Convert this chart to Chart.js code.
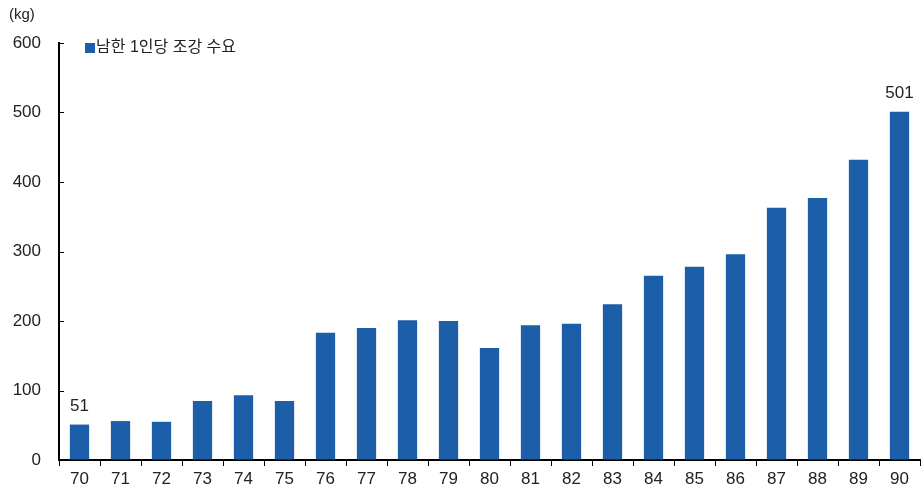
<!DOCTYPE html>
<html>
<head>
<meta charset="utf-8">
<script src="https://cdn.jsdelivr.net/npm/chart.js@4"></script>
<style>
  html, body { margin: 0; padding: 0; background: #fff; }
  #wrap { width: 923px; height: 490px; position: relative; }
</style>
</head>
<body>
<div id="wrap"><canvas id="chart"></canvas></div>
<script>
'use strict'

// **** DATA ****
let years = ['70', '71', '72', '73', '74', '75', '76', '77', '78', '79', '80',
             '81', '82', '83', '84', '85', '86', '87', '88', '89', '90'];
let demand = [51, 56, 55, 85, 93, 85, 183, 190, 201, 200, 161,
              194, 196, 224, 265, 278, 296, 363, 377, 432, 501];
let seriesName = '남한 1인당 조강 수요';
let unitLabel = '(kg)';
let yTicks = [0, 100, 200, 300, 400, 500, 600];
let labelledBars = [0, 20];

const FONT = '"Liberation Sans", "Noto Sans CJK KR", sans-serif';
const BLUE = '#1c5ea8';

// **** PLUGINS ****
// little ticks on the inside of the y axis, value labels, unit and legend
const extras = {
    id: 'extras',
    afterDraw(chart) {
        let ctx = chart.ctx;
        let yScale = chart.scales.y;
        let area = chart.chartArea;
        ctx.save();

        ctx.strokeStyle = '#000';
        ctx.lineWidth = 1;
        for (let i = 0; i < yTicks.length; i++) {
            let py = Math.round(yScale.getPixelForValue(yTicks[i])) + 0.5;
            ctx.beginPath();
            ctx.moveTo(area.left, py);
            ctx.lineTo(area.left + 5, py);
            ctx.stroke();
        }

        ctx.fillStyle = '#222';
        ctx.font = '17px ' + FONT;
        ctx.textAlign = 'center';
        ctx.textBaseline = 'bottom';
        let bars = chart.getDatasetMeta(0).data;
        for (let i = 0; i < labelledBars.length; i++) {
            let n = labelledBars[i];
            ctx.fillText(String(demand[n]), bars[n].x, bars[n].y - 10);
        }

        ctx.textAlign = 'left';
        ctx.textBaseline = 'middle';
        ctx.font = '15px ' + FONT;
        ctx.fillText(unitLabel, 9, 15);

        ctx.fillStyle = BLUE;
        ctx.fillRect(85, 43, 10, 10);
        ctx.fillStyle = '#222';
        ctx.font = '16px ' + FONT;
        ctx.fillText(seriesName, 96, 48);

        ctx.restore();
    }
};

// **** CHART ****
const config = {
    type: 'bar',
    data: {
        labels: years,
        datasets: [{
            label: seriesName,
            data: demand,
            backgroundColor: BLUE,
            barPercentage: 0.47,
            categoryPercentage: 1
        }]
    },
    options: {
        responsive: false,
        animation: false,
        layout: { padding: { top: 43, right: 3, left: 0, bottom: 0 } },
        plugins: {
            legend: { display: false },
            tooltip: { enabled: false }
        },
        scales: {
            x: {
                grid: {
                    offset: true,
                    drawOnChartArea: false,
                    drawTicks: true,
                    tickLength: 6,
                    color: '#000'
                },
                border: { display: true, color: '#000', width: 2 },
                ticks: {
                    color: '#222',
                    padding: 3,
                    font: { family: FONT, size: 17 }
                },
                afterFit(scale) { scale.height = 30; }
            },
            y: {
                min: 0,
                max: 600,
                afterBuildTicks(scale) {
                    scale.ticks = yTicks.map(v => ({ value: v }));
                },
                grid: { drawOnChartArea: false, drawTicks: false },
                border: { display: true, color: '#000', width: 2 },
                ticks: {
                    color: '#222',
                    padding: 18,
                    font: { family: FONT, size: 17 }
                },
                afterFit(scale) { scale.width = 59; }
            }
        }
    },
    plugins: [extras]
};

let canvas = document.getElementById('chart');
canvas.width = 923;
canvas.height = 490;
new Chart(canvas, config);
</script>
</body>
</html>
